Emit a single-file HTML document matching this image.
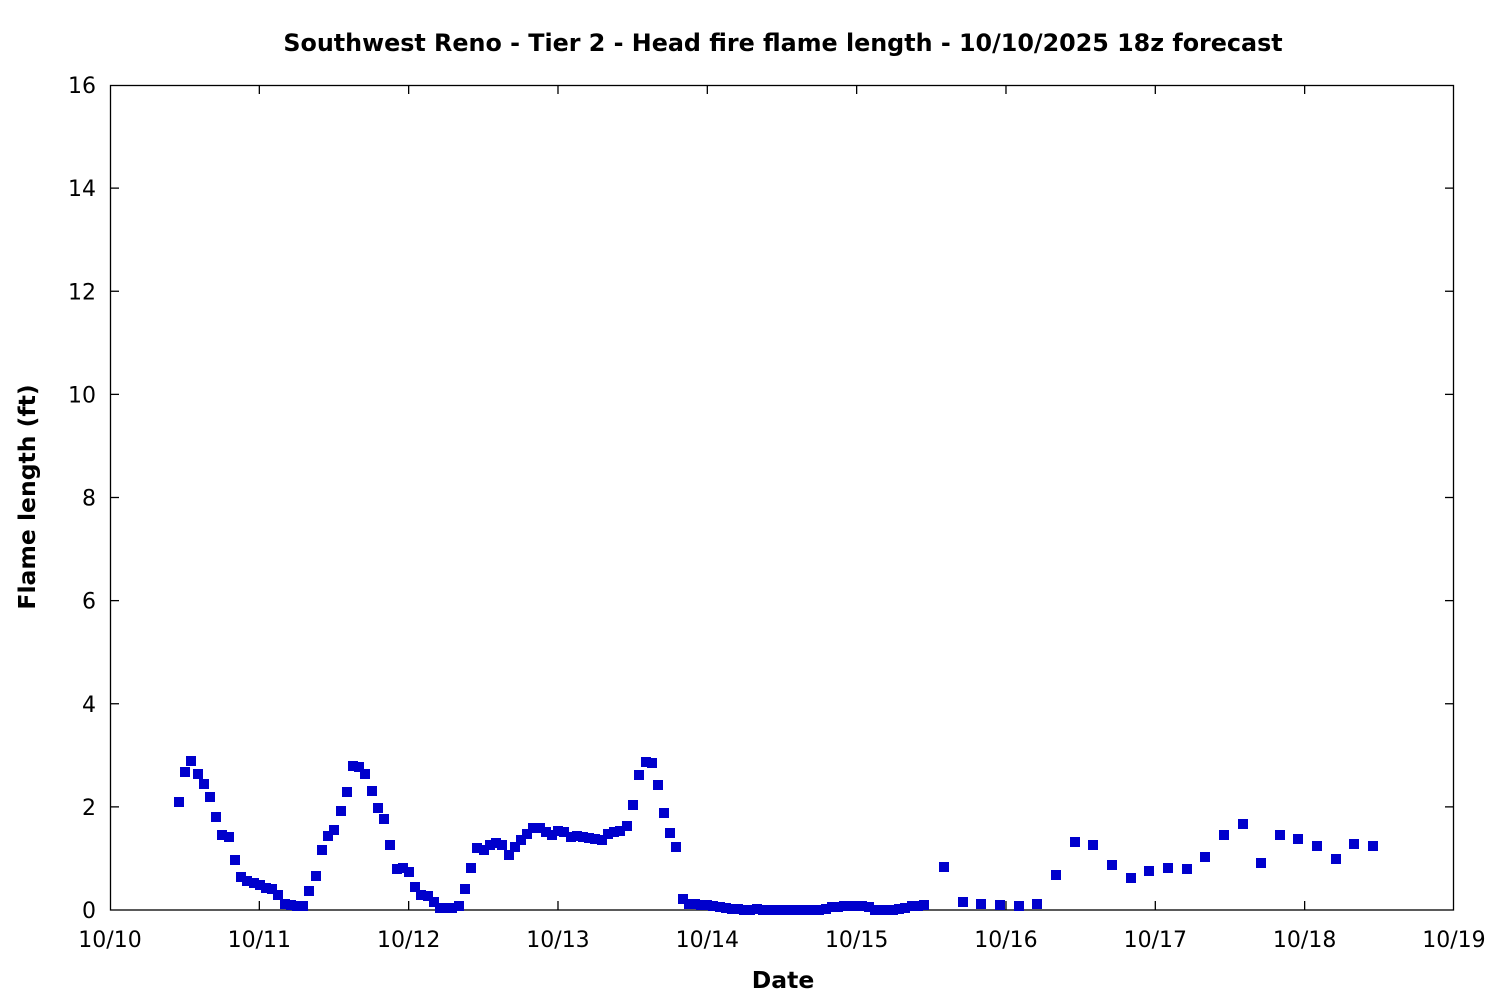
<!DOCTYPE html>
<html><head><meta charset="utf-8"><style>
html,body{margin:0;padding:0;background:#fff;}
svg{display:block;font-family:"DejaVu Sans","Liberation Sans",sans-serif;}
</style></head><body>
<svg id="s" width="1500" height="1000" viewBox="0 0 1500 1000" xmlns="http://www.w3.org/2000/svg">
<rect width="1500" height="1000" fill="#fff"/>
<text x="783" y="51" text-anchor="middle" font-size="23.8" font-weight="bold">Southwest Reno - Tier 2 - Head fire flame length - 10/10/2025 18z forecast</text>
<g id="ax" stroke="#000" stroke-width="1.3" fill="none"><rect x="110.5" y="85.5" width="1343" height="824.5"/></g>
<g id="lab" font-size="22" fill="#000"></g>
<text x="783" y="988" text-anchor="middle" font-size="23.5" font-weight="bold">Date</text>
<text transform="translate(35,497) rotate(-90)" text-anchor="middle" font-size="23.5" font-weight="bold">Flame length (ft)</text>
<g id="pts" fill="#0000cc"></g>
</svg>
<script>
var ns="http://www.w3.org/2000/svg";
function el(p,t,a,txt){var e=document.createElementNS(ns,t);for(var k in a)e.setAttribute(k,a[k]);if(txt!=null)e.textContent=txt;document.getElementById(p).appendChild(e);}
for(var i=0;i<=8;i++){var y=910-i*103.125;
 if(i>0&&i<8){el("ax","line",{x1:110,y1:y,x2:119,y2:y});el("ax","line",{x1:1454,y1:y,x2:1445,y2:y});}
 el("lab","text",{x:96,y:y+8,"text-anchor":"end"},String(i*2));}
var days=["10/10","10/11","10/12","10/13","10/14","10/15","10/16","10/17","10/18","10/19"];
for(var d=0;d<=9;d++){var x=110+d*149.33;
 if(d>0&&d<9){el("ax","line",{x1:x,y1:910,x2:x,y2:901});el("ax","line",{x1:x,y1:85,x2:x,y2:94});}
 el("lab","text",{x:x,y:947,"text-anchor":"middle"},days[d]);}
var P=[[179,802],[185,772],[191,761],[198,774],[204,784],[210,797],[216,817],[222,835],[229,837],[235,860],[241,877],[247,881],[254,883],[260,885],[266,888],[272,889],[278,895],[285,904],[291,905],[297,906],[303,906],[309,891],[316,876],[322,850],[328,836],[334,830],[341,811],[347,792],[353,766],[359,767],[365,774],[372,791],[378,808],[384,819],[390,845],[397,869],[403,868],[409,872],[415,887],[421,895],[428,896],[434,902],[440,908],[446,908],[452,908],[459,906],[465,889],[471,868],[477,848],[484,850],[490,845],[496,843],[502,845],[509,855],[515,847],[521,840],[527,834],[533,828],[540,828],[546,832],[552,835],[558,831],[564,832],[571,837],[577,836],[583,837],[589,838],[595,839],[602,840],[608,834],[614,832],[620,831],[627,826],[633,805],[639,775],[646,762],[652,763],[658,785],[664,813],[670,833],[676,847],[683,899],[689,904],[695,904],[701,905],[707,905],[713,906],[720,907],[726,908],[732,909],[738,909],[744,910],[750,910],[757,909],[763,910],[769,910],[775,910],[781,910],[788,910],[794,910],[800,910],[806,910],[812,910],[819,910],[826,909],[832,907],[838,907],[844,906],[850,906],[856,906],[862,906],[869,907],[875,910],[881,910],[887,910],[893,910],[899,909],[905,908],[912,906],[918,906],[924,905],[944,867],[963,902],[981,904],[1000,905],[1019,906],[1037,904],[1056,875],[1075,842],[1093,845],[1112,865],[1131,878],[1149,871],[1168,868],[1187,869],[1205,857],[1224,835],[1243,824],[1261,863],[1280,835],[1298,839],[1317,846],[1336,859],[1354,844],[1373,846]];
P.forEach(function(p){el("pts","rect",{x:p[0]-5,y:p[1]-5,width:10,height:10});});
</script>
</body></html>
